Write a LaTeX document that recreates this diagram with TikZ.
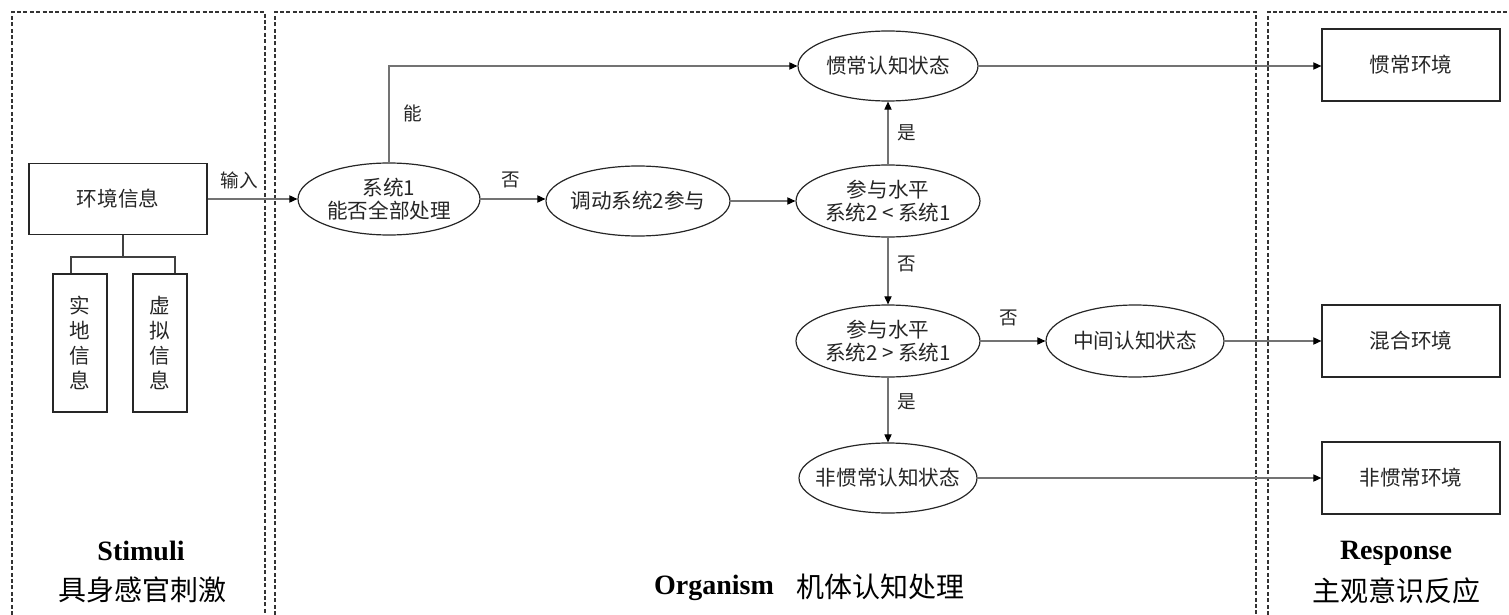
\documentclass[tikz,border=0pt]{standalone}
\usepackage{fontspec}
\setmainfont{Liberation Serif}
\newfontfamily\cjk{Noto Sans CJK SC}
\usetikzlibrary{arrows.meta,shapes.geometric,calc}
\begin{document}
\begin{tikzpicture}[x=0.5pt,y=-0.5pt,
  dashbox/.style={draw=black!80,line width=0.6pt,dash pattern=on 2pt off 1.2pt},
  conn/.style={draw=black!55,line width=0.55pt},
  arr/.style={conn,-{Triangle[length=4pt,width=3.6pt,color=black]}},
  tree/.style={draw=black!75,line width=0.6pt},
  ell/.style={ellipse,draw=black!85,line width=0.6pt,inner ysep=0pt,inner xsep=-6pt,align=center,font=\cjk\fontsize{10.3}{11.5}\selectfont,text=black!85},
  box/.style={rectangle,draw=black!85,line width=0.65pt,inner sep=0pt,align=center,font=\cjk\fontsize{10.3}{11.8}\selectfont,text=black!85},
  vbox/.style={box,font=\cjk\fontsize{10.3}{12.6}\selectfont,minimum width=27pt,minimum height=69pt},
  lbl/.style={font=\cjk\fontsize{9.3}{11}\selectfont,text=black!85,inner sep=0pt},
  ttl/.style={font=\bfseries\fontsize{14}{16}\selectfont,inner sep=0pt},
  ttlc/.style={font=\cjk\fontsize{14}{16}\selectfont,inner sep=0pt}]

\useasboundingbox (0,0) rectangle (1509,615);

% dashed regions
\draw[dashbox] (12,615) -- (12,12) -- (265,12) -- (265,615);
\draw[dashbox] (275,615) -- (275,12) -- (1256,12) -- (1256,615);
\draw[dashbox] (1268,615) -- (1268,12) -- (1509,12);

% stimuli
\node[box,minimum width=89pt,minimum height=35.5pt] (env) at (118,199) {环境信息};
\node[vbox] (real) at (80,343) {实\\地\\信\\息};
\node[vbox] (virt) at (160,343) {虚\\拟\\信\\息};
\coordinate (tj) at (123,257);
\coordinate (tl) at (71,257);
\coordinate (tr) at (175,257);
\draw[tree] (env.south -| tj) -- (tj);
\draw[tree] (tl |- real.north) -- (tl) -- (tr) -- (tr |- virt.north);

% organism
\node[ell,minimum width=91pt,minimum height=36pt] (s1) at (389,199) {系统1\\能否全部处理};
\node[ell,minimum width=92pt,minimum height=35pt] (dd) at (638,201) {调动系统2参与};
\node[ell,minimum width=90pt,minimum height=35pt] (cy) at (888,66) {惯常认知状态};
\node[ell,minimum width=92pt,minimum height=36pt] (p1) at (888,201) {参与水平\\系统2 < 系统1};
\node[ell,minimum width=92pt,minimum height=36pt] (p2) at (888,341) {参与水平\\系统2 > 系统1};
\node[ell,minimum width=89pt,minimum height=36pt] (mid) at (1135,341) {中间认知状态};
\node[ell,minimum width=89pt,minimum height=35pt] (fc) at (888,478) {非惯常认知状态};

% response
\node[box,minimum width=89pt,minimum height=36pt] (r1) at (1411,65) {惯常环境};
\node[box,minimum width=89pt,minimum height=36pt] (r2) at (1411,341) {混合环境};
\node[box,minimum width=89pt,minimum height=36pt] (r3) at (1411,478) {非惯常环境};

% connectors
\draw[arr] (env.east) -- (env.east -| s1.west);
\draw[arr] (s1.north) |- (cy.west);
\draw[arr] (s1.east) -- (s1.east -| dd.west);
\draw[arr] (dd.east) -- (p1.west);
\draw[arr] (p1.north) -- (cy.south);
\draw[arr] (p1.south) -- (p2.north);
\draw[arr] (p2.east) -- (mid.west);
\draw[arr] (p2.south) -- (fc.north);
\draw[arr] (cy.east) -- (cy.east -| r1.west);
\draw[arr] (mid.east) -- (r2.west);
\draw[arr] (fc.east) -- (fc.east -| r3.west);

% labels
\node[lbl] (lin) at (239,180) {输入};
\node[lbl] (lneng) at (413,113) {能};
\node[lbl] (lfou1) at (511,180) {否};
\node[lbl] (lshi1) at (907,133) {是};
\node[lbl] (lfou2) at (907,264) {否};
\node[lbl] (lfou3) at (1009,318) {否};
\node[lbl] (lshi2) at (907,402) {是};

% titles
\node[ttl] (st) at (141,551) {Stimuli};
\node[ttlc] (stc) at (142,590) {具身感官刺激};
\node[ttl] (org) at (714,588) {Organism};
\node[ttlc] (orgc) at (880,587) {机体认知处理};
\node[ttl] (rs) at (1396,553) {Response};
\node[ttlc] (rsc) at (1396,591) {主观意识反应};
\end{tikzpicture}
\end{document}
